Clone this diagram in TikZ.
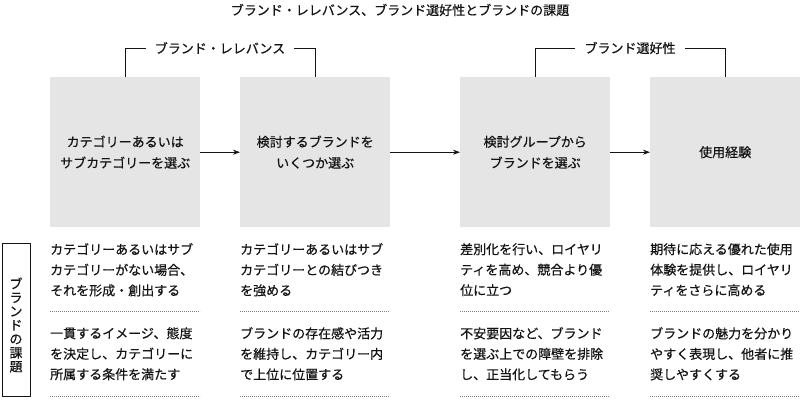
\documentclass[tikz,border=0pt]{standalone}
\usepackage{fontspec}
\setmainfont[FakeBold=0.5]{Noto Sans CJK JP}
\usetikzlibrary{arrows.meta}
\definecolor{boxgray}{RGB}{229,229,229}
\definecolor{ink}{RGB}{20,20,20}
\begin{document}
\begin{tikzpicture}[x=1pt,y=-1pt,
  font=\fontsize{13}{20.5}\selectfont, text=ink,
  stage/.style={fill=boxgray, minimum width=150pt, minimum height=150pt, inner sep=0pt, align=center, anchor=north west, font=\fontsize{13}{21}\selectfont},
  flow/.style={draw=ink, line width=0.7pt, -{Stealth[length=7pt,width=5pt]}},
  brack/.style={draw=ink, line width=0.7pt},
  brlabel/.style={fill=white, inner xsep=9pt, inner ysep=2pt},
  note/.style={anchor=north west, align=left, inner sep=0pt},
  sep/.style={draw=gray, line width=0.7pt, dash pattern=on 0.8pt off 1.2pt}]
\useasboundingbox (0,0) rectangle (800,410);

% title
\node (title) at (400,10) {ブランド・レレバンス、ブランド選好性とブランドの課題};

% stage boxes
\node[stage] (s1) at (50,77)  {カテゴリーあるいは\\サブカテゴリーを選ぶ};
\node[stage] (s2) at (240,77) {検討するブランドを\\いくつか選ぶ};
\node[stage] (s3) at (460,77) {検討グループから\\ブランドを選ぶ};
\node[stage] (s4) at (650,77) {使用経験};

\draw[flow] (s1) -- (s2);
\draw[flow] (s2) -- (s3);
\draw[flow] (s3) -- (s4);

% brackets
\node[brlabel] (rel) at (220,48) {ブランド・レレバンス};
\node[brlabel] (pref) at (630,48) {ブランド選好性};
\draw[brack] (s1.north) |- (rel.west);
\draw[brack] (s2.north) |- (rel.east);
\draw[brack] (s3.north) |- (pref.west);
\draw[brack] (s4.north) |- (pref.east);

% side label
\node[draw=ink, line width=0.7pt, minimum width=28pt, minimum height=153pt, inner sep=0pt] (side) at (16,319.5) {};
\node[align=center, font=\fontsize{13}{13.8}\selectfont] (sidetext) at (16,325) {ブ\\ラ\\ン\\ド\\の\\課\\題};

% notes row 1
\node[note] (n11) at (50,243)  {カテゴリーあるいはサブ\\カテゴリーがない場合、\\それを形成・創出する};
\node[note] (n12) at (240,243) {カテゴリーあるいはサブ\\カテゴリーとの結びつき\\を強める};
\node[note] (n13) at (460,243) {差別化を行い、ロイヤリ\\ティを高め、競合より優\\位に立つ};
\node[note] (n14) at (650,243) {期待に応える優れた使用\\体験を提供し、ロイヤリ\\ティをさらに高める};

% separators
\coordinate (d1a) at (50,311);  \coordinate (d1b) at (200,311);
\coordinate (d2a) at (240,311); \coordinate (d2b) at (390,311);
\coordinate (d3a) at (460,311); \coordinate (d3b) at (610,311);
\coordinate (d4a) at (650,311); \coordinate (d4b) at (800,311);
\draw[sep] (d1a) -- (d1b);
\draw[sep] (d2a) -- (d2b);
\draw[sep] (d3a) -- (d3b);
\draw[sep] (d4a) -- (d4b);

% notes row 2
\node[note] (n21) at (50,327)  {一貫するイメージ、態度\\を決定し、カテゴリーに\\所属する条件を満たす};
\node[note] (n22) at (240,327) {ブランドの存在感や活力\\を維持し、カテゴリー内\\で上位に位置する};
\node[note] (n23) at (460,327) {不安要因など、ブランド\\を選ぶ上での障壁を排除\\し、正当化してもらう};
\node[note] (n24) at (650,327) {ブランドの魅力を分かり\\やすく表現し、他者に推\\奨しやすくする};

\coordinate (e1a) at (50,396);  \coordinate (e1b) at (200,396);
\coordinate (e2a) at (240,396); \coordinate (e2b) at (390,396);
\coordinate (e3a) at (460,396); \coordinate (e3b) at (610,396);
\coordinate (e4a) at (650,396); \coordinate (e4b) at (800,396);
\draw[sep] (e1a) -- (e1b);
\draw[sep] (e2a) -- (e2b);
\draw[sep] (e3a) -- (e3b);
\draw[sep] (e4a) -- (e4b);
\end{tikzpicture}
\end{document}
